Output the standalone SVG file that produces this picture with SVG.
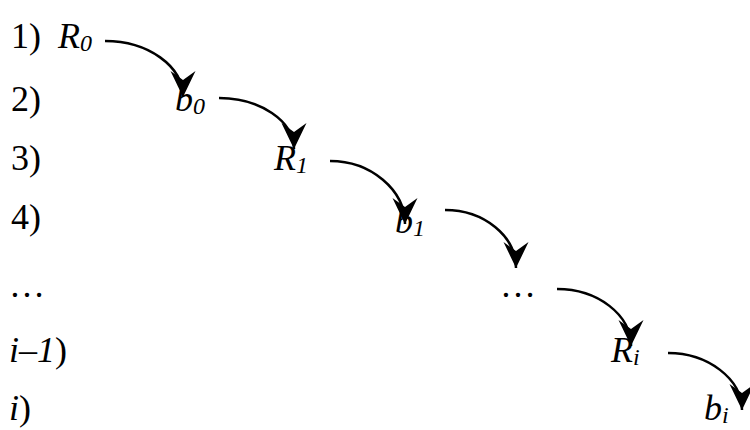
<svg xmlns="http://www.w3.org/2000/svg" width="750" height="430" viewBox="0 0 750 430">
<style>
text{font-family:"Liberation Serif","Times New Roman",serif;font-size:36px;fill:#000}
.it{font-style:italic}
.sub{font-size:24px;font-style:italic}
.arr{fill:none;stroke:#000;stroke-width:2.5;marker-end:url(#ah)}
</style>
<defs>
<marker id="ah" markerUnits="userSpaceOnUse" viewBox="-28 -14 30 28" refX="0" refY="0" markerWidth="30" markerHeight="28" orient="auto">
<path d="M0,0 L-26,-12.5 L-17,0 L-26,12.5 Z" fill="#000"/>
</marker>
</defs>
<g id="labels">
<text x="11" y="48">1)</text>
<text x="11" y="111">2)</text>
<text x="11" y="170">3)</text>
<text x="11" y="229">4)</text>
<text x="9" y="297">…</text>
<text x="9" y="362"><tspan class="it">i–1</tspan>)</text>
<text x="9" y="420"><tspan class="it">i</tspan>)</text>
</g>
<g id="R0"><text x="58" y="48"><tspan class="it">R</tspan><tspan class="sub" dy="3">0</tspan></text></g>
<g id="b0"><text x="175" y="111"><tspan class="it">b</tspan><tspan class="sub" dy="3">0</tspan></text></g>
<g id="R1"><text x="274" y="170"><tspan class="it">R</tspan><tspan class="sub" dy="3">1</tspan></text></g>
<g id="b1"><text x="395" y="233"><tspan class="it">b</tspan><tspan class="sub" dy="3">1</tspan></text></g>
<g id="dots"><text x="500" y="297">…</text></g>
<g id="Ri"><text x="611" y="362"><tspan class="it">R</tspan><tspan class="sub" dy="3">i</tspan></text></g>
<g id="bi"><text x="704" y="420"><tspan class="it">b</tspan><tspan class="sub" dy="3">i</tspan></text></g>
<g id="connectors">
<path class="arr" d="M105,41 C148,41 183,66 183,97"/>
<path class="arr" d="M219,98 C260,98 294,121 294,149"/>
<path class="arr" d="M330,161 C371,161 405,190 405,224"/>
<path class="arr" d="M445,210 C484,210 516,236 516,268"/>
<path class="arr" d="M557,289 C598,289 631,315 631,346"/>
<path class="arr" d="M668,353 C708,353 742,379 742,410"/>
</g>
</svg>
